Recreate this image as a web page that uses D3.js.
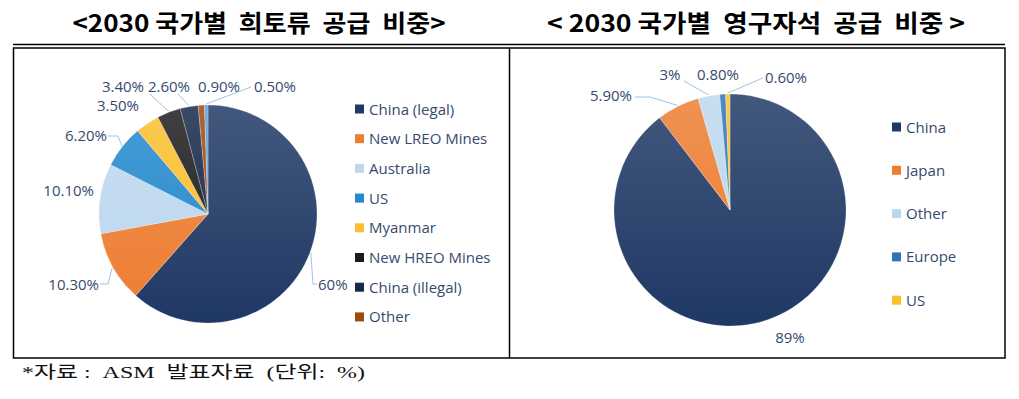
<!DOCTYPE html>
<html><head><meta charset="utf-8">
<script src="https://cdn.jsdelivr.net/npm/d3@7"></script>
<style>
html,body{margin:0;padding:0;background:#fff;}
svg{display:block;}
</style></head>
<body>
<svg id="c" width="1019" height="399"></svg>
<script>
// ---- data ----
const leftCategories = ["China (legal)","New LREO Mines","Australia","US","Myanmar","New HREO Mines","China (illegal)","Other",""];
const leftValues = [60,10.3,10.1,6.2,3.5,3.4,2.6,0.9,0.5];
const leftLabels = ["60%","10.30%","10.10%","6.20%","3.50%","3.40%","2.60%","0.90%","0.50%"];
const rightCategories = ["China","Japan","Other","Europe","US"];
const rightValues = [89,5.9,3,0.8,0.6];
const rightLabels = ["89%","5.90%","3%","0.80%","0.60%"];
const titles = ["<2030 국가별  희토류  공급  비중>","< 2030 국가별  영구자석  공급  비중 >"];
const footnote = "*자료 :  ASM  발표자료  (단위:  %)";

// ---- styles / layout ----
const leftColors = ["#1f3864","#ed7d31","#bdd7ee","#2389cc","#fbbf2e","#1c1c1c","#14284a","#9e480e","#5b9bd5"];
const rightColors = ["#1f3864","#ed7d31","#bdd7ee","#2e75b6","#fbbf2e"];
const textColor = "#364a6e";
const lineColor = "#9dc3e6";
const fs = 15;
const leftLabelLayout = [
  {x:318,y:290,a:"start",e:[317,284],k:[313,284]},
  {x:99,y:290,a:"end",e:[100,284],k:[108,284]},
  {x:94,y:196,a:"end",e:null},
  {x:107,y:141,a:"end",e:[108,136],k:[118,136]},
  {x:139,y:111,a:"end",e:null},
  {x:123,y:92,a:"middle",e:[150,94],k:null},
  {x:169,y:92,a:"middle",e:[178,94],k:null},
  {x:219,y:92,a:"middle",e:null},
  {x:275,y:92,a:"middle",e:[251,87],k:null}
];
const rightLabelLayout = [
  {x:790,y:343,a:"middle",e:null},
  {x:632,y:101,a:"end",e:[635,97],k:[650,97]},
  {x:670,y:80,a:"middle",e:[684,81],k:null},
  {x:718,y:80,a:"middle",e:null},
  {x:786,y:83,a:"middle",e:[763,78],k:null}
];

const svg = d3.select("#c");
const fontUI = "'Open Sans','Noto Sans','Noto Sans CJK KR',sans-serif";

// frame
const fr = svg.append("g").attr("fill","none").attr("stroke","#000");
fr.append("line").attr("x1",13).attr("x2",1005).attr("y1",44.5).attr("y2",44.5).attr("stroke-width",1.5);
fr.append("rect").attr("x",13.5).attr("y",48).attr("width",991.5).attr("height",310).attr("stroke-width",1.5);
fr.append("line").attr("x1",509.5).attr("x2",509.5).attr("y1",48).attr("y2",358).attr("stroke-width",1.5);

// titles
const tfont = "'Noto Sans CJK KR',sans-serif";
svg.append("text").attr("x",259).attr("y",32).attr("text-anchor","middle")
  .attr("font-family",tfont).attr("font-weight",700).attr("font-size",24)
  .attr("textLength",373).attr("lengthAdjust","spacingAndGlyphs")
  .style("white-space","pre").text(titles[0]);
svg.append("text").attr("x",756).attr("y",32).attr("text-anchor","middle")
  .attr("font-family",tfont).attr("font-weight",700).attr("font-size",24)
  .attr("textLength",418).attr("lengthAdjust","spacingAndGlyphs")
  .style("white-space","pre").text(titles[1]);

// footnote
svg.append("text").attr("x",22).attr("y",378)
  .attr("font-family","'Liberation Serif','Noto Sans CJK KR',serif").attr("font-size",17)
  .attr("textLength",343).attr("lengthAdjust","spacingAndGlyphs")
  .attr("fill","#111").style("white-space","pre").text(footnote);

const defs = svg.append("defs");
const grad = defs.append("linearGradient").attr("id","shade").attr("x1",0).attr("y1",0).attr("x2",0).attr("y2",1);
grad.append("stop").attr("offset","0").attr("stop-color","#fff").attr("stop-opacity",0.16);
grad.append("stop").attr("offset","1").attr("stop-color","#fff").attr("stop-opacity",0);

function drawPie(cx, cy, r, values, colors, labels, layout) {
  const g = svg.append("g").attr("transform",`translate(${cx},${cy})`);
  const pie = d3.pie().sort(null).value(d=>d);
  const arcs = pie(values);
  const arc = d3.arc().innerRadius(0).outerRadius(r);
  g.selectAll("path.s").data(arcs).join("path").attr("class","s")
    .attr("d",arc).attr("fill",(d,i)=>colors[i])
    .attr("stroke","#fff").attr("stroke-width",0.4).attr("stroke-opacity",0.6);
  g.append("circle").attr("r",r).attr("fill","url(#shade)");
  const outer = d3.arc().innerRadius(r+1).outerRadius(r+1);
  arcs.forEach((d,i)=>{
    const L = layout[i];
    if(!L.e) return;
    const p = outer.centroid(d);
    const pts = [[cx+p[0],cy+p[1]]];
    if(L.k) pts.push(L.k);
    pts.push(L.e);
    svg.append("path").attr("d",d3.line()(pts)).attr("fill","none")
      .attr("stroke",lineColor).attr("stroke-width",1);
  });
  arcs.forEach((d,i)=>{
    const L = layout[i];
    svg.append("text").attr("x",L.x).attr("y",L.y).attr("text-anchor",L.a)
      .attr("font-family",fontUI).attr("font-size",fs).attr("fill",textColor).text(labels[i]);
  });
}

drawPie(208, 214, 109, leftValues, leftColors, leftLabels, leftLabelLayout);
drawPie(730, 210, 116, rightValues, rightColors, rightLabels, rightLabelLayout);

// legends
function legend(x, y0, step, cats, colors) {
  const g = svg.append("g");
  cats.forEach((c,i)=>{
    if(!c) return;
    const y = y0 + i*step;
    g.append("rect").attr("x",x).attr("y",y-4.5).attr("width",9).attr("height",9).attr("fill",colors[i]);
    g.append("text").attr("x",x+14).attr("y",y+5.5).attr("font-family",fontUI)
      .attr("font-size",fs).attr("fill",textColor).text(c);
  });
}
legend(355, 109, 29.7, leftCategories, leftColors);
legend(892, 127, 43.3, rightCategories, rightColors);
</script>
</body></html>
